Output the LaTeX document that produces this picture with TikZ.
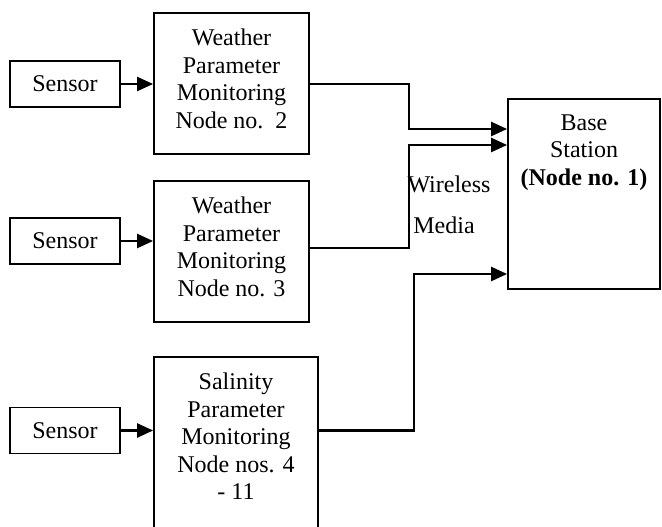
\documentclass[tikz,border=0pt]{standalone}
\usepackage{fontspec}
\setmainfont{Liberation Serif}
\usetikzlibrary{arrows.meta,positioning}

\tikzset{
	box/.style = {draw, line width=1.8pt, inner sep=0pt},
	sensorbox/.style = {box, minimum width=110pt, minimum height=46pt, font=\fontsize{24}{27.5}\selectfont},
	boxtext/.style = {align=center, inner sep=0pt, font=\fontsize{24}{27.5}\selectfont},
	link/.style = {line width=2.3pt, -{Triangle[length=16pt,width=14pt]}},
}

\begin{document}
\begin{tikzpicture}[x=1pt, y=-1pt]
%
\clip (0,0) rectangle (662,527);

%Sensoren
\foreach \n/\yy in {1/84, 2/241, 3/430.5}{
	\node[sensorbox] (s\n) at (65,\yy) {Sensor};
}

%Knoten
\node[box, minimum width=155pt, minimum height=141pt] (w1) at (231.5,83.5) {};
\node[box, minimum width=155pt, minimum height=141pt] (w2) at (231.5,251.5) {};
\node[box, minimum width=164pt, minimum height=175pt] (sal) at (236,444.5) {};
\node[box, minimum width=152pt, minimum height=190pt] (bs) at (584,194) {};

%Texte
\node[boxtext, below=17pt of w1.north] (w1t) {Weather\\Parameter\\Monitoring\\Node no.\ \ 2};
\node[boxtext, below=17pt of w2.north] (w2t) {Weather\\Parameter\\Monitoring\\Node no. 3};
\node[boxtext, below=17pt of sal.north] (salt) {Salinity\\Parameter\\Monitoring\\Node nos. 4\\- 11};
\node[boxtext, below=16pt of bs.north] (bst) {Base\\Station\\{\bfseries (Node no. 1)}};

\node[boxtext] (wl) at (449,184) {Wireless};
\node[boxtext] (md) at (444,225) {Media};

%Pfeile
\foreach \n/\b in {1/w1, 2/w2, 3/sal}{
	\draw[link] (s\n.east) -- (s\n.east -| \b.west);
}

\draw[link] (w1.east |- s1.east) -- ++(99,0) |- ([yshift=65pt]bs.west);
\draw[link] ([yshift=3.5pt]w2.east) -- ++(99,0) |- ([yshift=49pt]bs.west);
\draw[link] (sal.east |- s3.east) -- ++(95,0) |- ([yshift=-80pt]bs.west);

\end{tikzpicture}
\end{document}
